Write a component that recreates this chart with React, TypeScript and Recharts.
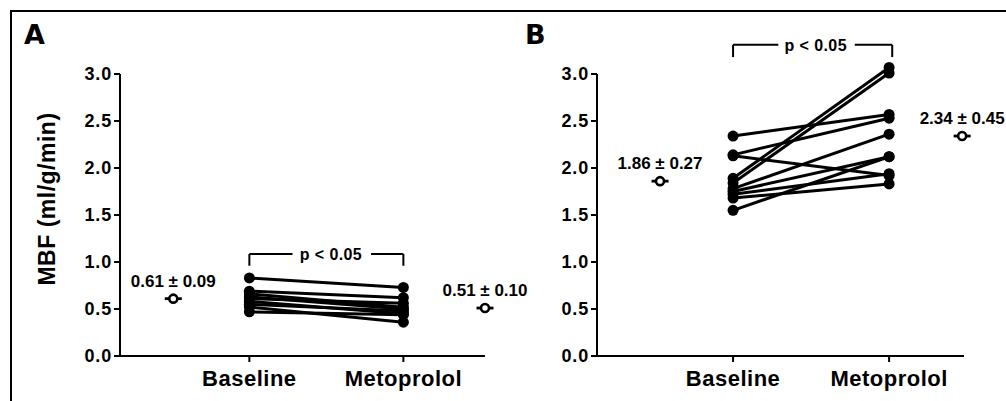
import React from 'react';
import { ComposedChart, Line, Scatter, XAxis, YAxis, ReferenceLine, ReferenceDot, Label } from 'recharts';

const categories = ['Baseline', 'Metoprolol'];
const yTicks = [0, 0.5, 1, 1.5, 2, 2.5, 3];

const baselineA = [0.83, 0.69, 0.66, 0.63, 0.61, 0.58, 0.55, 0.52, 0.47];
const metoprololA = [0.73, 0.62, 0.52, 0.5, 0.56, 0.45, 0.48, 0.36, 0.44];
const meanValuesA = [0.61, 0.51];
const meanLabelsA = ['0.61 ± 0.09', '0.51 ± 0.10'];

const baselineB = [2.34, 2.14, 2.13, 1.89, 1.84, 1.78, 1.75, 1.72, 1.68, 1.55];
const metoprololB = [2.57, 2.53, 1.92, 3.07, 3.01, 2.36, 2.12, 1.94, 1.83, 2.12];
const meanValuesB = [1.86, 2.34];
const meanLabelsB = ['1.86 ± 0.27', '2.34 ± 0.45'];

const pLabel = 'p < 0.05';
const yAxisTitle = 'MBF (ml/g/min)';
const panelLetters = ['A', 'B'];

const FONT = '"Liberation Sans", Arial, Helvetica, sans-serif';

const MeanShape = (props: any) => {
  const { cx, cy, payload } = props;
  if (cx == null || cy == null) return null;
  return (
    <g>
      <line x1={cx - 8.5} x2={cx + 8.5} y1={cy} y2={cy} stroke="#000" strokeWidth={2.8} />
      <circle cx={cx} cy={cy} r={4} fill="#fff" stroke="#000" strokeWidth={2.6} />
      <text
        x={cx}
        y={cy - 12}
        textAnchor="middle"
        fontSize={17}
        fontWeight={700}
        fill="#000"
        fontFamily={FONT}
      >
        {payload.label}
      </text>
    </g>
  );
};

type PanelProps = {
  left: number;
  width: number;
  marginRight: number;
  yAxisWidth: number;
  xDomain: [number, number];
  meanX: [number, number];
  baseline: number[];
  metoprolol: number[];
  meanValues: number[];
  meanLabels: string[];
  bracketTop: number;
  bracketBottom: number;
  bracketGap: [number, number];
  bracketEnds: [number, number];
  pTextX: number;
  showYTitle: boolean;
};

const Panel = (p: PanelProps) => {
  const meanData = p.meanValues.map((v, i) => ({ x: p.meanX[i], y: v, label: p.meanLabels[i] }));
  const subjects = p.baseline.map((b, i) => [
    { x: 1, y: b },
    { x: 2, y: p.metoprolol[i] },
  ]);
  const [l, r] = p.bracketEnds;
  const segs: any[] = [
    [{ x: l, y: p.bracketTop }, { x: p.bracketGap[0], y: p.bracketTop }],
    [{ x: p.bracketGap[1], y: p.bracketTop }, { x: r, y: p.bracketTop }],
    [{ x: l, y: p.bracketTop }, { x: l, y: p.bracketBottom }],
    [{ x: r, y: p.bracketTop }, { x: r, y: p.bracketBottom }],
  ];
  return (
    <div style={{ position: 'absolute', left: p.left, top: 0 }}>
      <ComposedChart
        width={p.width}
        height={401}
        margin={{ top: 74, right: p.marginRight, bottom: 0, left: 0 }}
      >
        <XAxis
          dataKey="x"
          type="number"
          domain={p.xDomain}
          allowDataOverflow
          ticks={[1, 2]}
          tickFormatter={(v: number) => categories[Math.round(v) - 1] ?? ''}
          height={45}
          axisLine={{ stroke: '#000', strokeWidth: 2 }}
          tickLine={{ stroke: '#000', strokeWidth: 2 }}
          tickSize={6}
          tickMargin={8}
          tick={{ fontSize: 22, fontWeight: 700, fill: '#000', letterSpacing: 0.5, fontFamily: FONT }}
        />
        <YAxis
          type="number"
          domain={[0, 3]}
          allowDataOverflow
          ticks={yTicks}
          tickFormatter={(v: number) => v.toFixed(1)}
          width={p.yAxisWidth}
          axisLine={{ stroke: '#000', strokeWidth: 2 }}
          tickLine={{ stroke: '#000', strokeWidth: 2 }}
          tickSize={6}
          tickMargin={2}
          tick={{ fontSize: 18, fontWeight: 700, fill: '#000', letterSpacing: 0.8, fontFamily: FONT }}
        >
          {p.showYTitle ? (
            <Label
              content={(lp: any) => {
                const vb = lp.viewBox || {};
                const x = (vb.x ?? 0) + 47;
                const y = (vb.y ?? 74) + (vb.height ?? 282) / 2 - 16;
                return (
                  <text
                    x={x}
                    y={y}
                    transform={`rotate(-90 ${x} ${y})`}
                    textAnchor="middle"
                    dominantBaseline="central"
                    fontSize={23}
                    fontWeight={700}
                    letterSpacing={0.5}
                    fill="#000"
                    fontFamily={FONT}
                  >
                    {yAxisTitle}
                  </text>
                );
              }}
            />
          ) : null}
        </YAxis>
        {subjects.map((d, i) => (
          <Line
            key={`s${i}`}
            name={`s${i}`}
            data={d}
            dataKey="y"
            stroke="#000"
            strokeWidth={3}
            dot={{ r: 5.5, fill: '#000', stroke: '#000', strokeWidth: 0 }}
            activeDot={false}
            isAnimationActive={false}
            legendType="none"
          />
        ))}
        <Scatter data={meanData} dataKey="y" shape={MeanShape} isAnimationActive={false} />
        {segs.map((s, i) => (
          <ReferenceLine key={`b${i}`} segment={s} stroke="#000" strokeWidth={2} ifOverflow="visible" />
        ))}
        <ReferenceDot
          x={p.pTextX}
          y={p.bracketTop}
          r={0}
          ifOverflow="visible"
          shape={(sp: any) => (
            <text
              x={sp.cx}
              y={sp.cy}
              dy="0.36em"
              textAnchor="middle"
              fontSize={16}
              fontWeight={700}
              letterSpacing={0.4}
              fill="#000"
              fontFamily={FONT}
            >
              {pLabel}
            </text>
          )}
        />
      </ComposedChart>
    </div>
  );
};

const letterStyle: React.CSSProperties = {
  position: 'absolute',
  top: 20,
  fontSize: 27,
  fontWeight: 700,
  lineHeight: '30px',
  fontFamily: '"DejaVu Sans", sans-serif',
};

export default function App() {
  return (
    <div
      style={{
        position: 'absolute',
        left: 0,
        top: 0,
        width: 1006,
        height: 401,
        background: '#fff',
        fontFamily: FONT,
        overflow: 'hidden',
      }}
    >
      <style>{`.recharts-surface g, .recharts-surface path, .recharts-surface circle { clip-path: none !important; }
.recharts-surface { overflow: visible !important; }`}</style>
      <div
        style={{
          position: 'absolute',
          left: 10,
          top: 10,
          width: 1000,
          height: 400,
          borderTop: '2px solid #000',
          borderLeft: '2px solid #000',
        }}
      />
      <Panel
        left={0}
        width={540}
        marginRight={55}
        yAxisWidth={120}
        xDomain={[0.16, 2.53]}
        meanX={[0.506, 2.53]}
        baseline={baselineA}
        metoprolol={metoprololA}
        meanValues={meanValuesA}
        meanLabels={meanLabelsA}
        bracketTop={1.085}
        bracketBottom={0.96}
        bracketGap={[1.28, 1.79]}
        bracketEnds={[1, 2]}
        pTextX={1.53}
        showYTitle
      />
      <Panel
        left={500}
        width={506}
        marginRight={42}
        yAxisWidth={97}
        xDomain={[0.128, 2.48]}
        meanX={[0.532, 2.468]}
        baseline={baselineB}
        metoprolol={metoprololB}
        meanValues={meanValuesB}
        meanLabels={meanLabelsB}
        bracketTop={3.31}
        bracketBottom={3.18}
        bracketGap={[1.29, 1.78]}
        bracketEnds={[1, 2.02]}
        pTextX={1.53}
        showYTitle={false}
      />
      <div style={{ ...letterStyle, left: 24 }}>{panelLetters[0]}</div>
      <div style={{ ...letterStyle, left: 525 }}>{panelLetters[1]}</div>
    </div>
  );
}
